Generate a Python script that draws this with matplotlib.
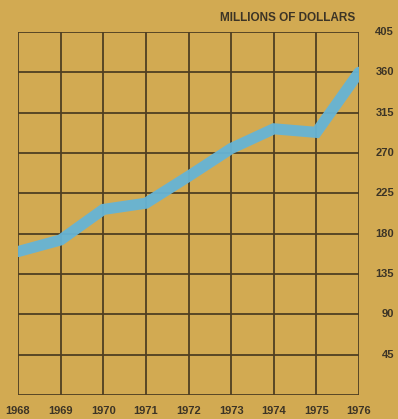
import matplotlib
matplotlib.use("Agg")
import matplotlib.pyplot as plt

years = [1968, 1969, 1970, 1971, 1972, 1973, 1974, 1975, 1976]
values = [160, 173, 207, 214, 244, 275, 297, 293, 360]
yticks = [45, 90, 135, 180, 225, 270, 315, 360, 405]
ylabel = "MILLIONS OF DOLLARS"

bg = "#d2aa52"
gridc = "#4f3f22"
linec = "#66b4d6"
textc = "#3c3426"

plt.rcParams['font.family'] = ['Liberation Sans', 'DejaVu Sans']

fig = plt.figure(figsize=(3.98, 4.19), dpi=100, facecolor=bg)
ax = fig.add_axes([18/398, 1-395/419, (359-18)/398, (395-32)/419])
ax.set_facecolor(bg)
ax.set_xlim(years[0], years[-1])
ax.set_ylim(0, 405)

for yr in years:
    ax.axvline(yr, color=gridc, lw=1.3, zorder=1)
for yv in [0] + yticks:
    ax.axhline(yv, color=gridc, lw=1.3, zorder=1)

ax.plot(years, values, color=linec, lw=8, solid_capstyle='round',
        solid_joinstyle='miter', alpha=0.95, zorder=3)

for s in ax.spines.values():
    s.set_visible(False)

ax.set_xticks(years)
ax.set_xticklabels([str(y) for y in years], fontsize=8, color=textc, fontweight='bold')
ax.tick_params(axis='x', length=0, pad=8)
ax.set_yticks(yticks)
ax.tick_params(axis='y', length=0, labelleft=False, labelright=False)

xr = (394 - 18) / (359 - 18)
for v in yticks:
    ax.text(xr, v, str(v), transform=ax.get_yaxis_transform(), ha='right',
            va='center', fontsize=8, color=textc, fontweight='bold', clip_on=False)

fig.text(355/398, 1-18/419, ylabel, ha='right', va='center', fontsize=8.5,
         color=textc, fontweight='bold')

fig.savefig("out.png", dpi=100, facecolor=bg)
